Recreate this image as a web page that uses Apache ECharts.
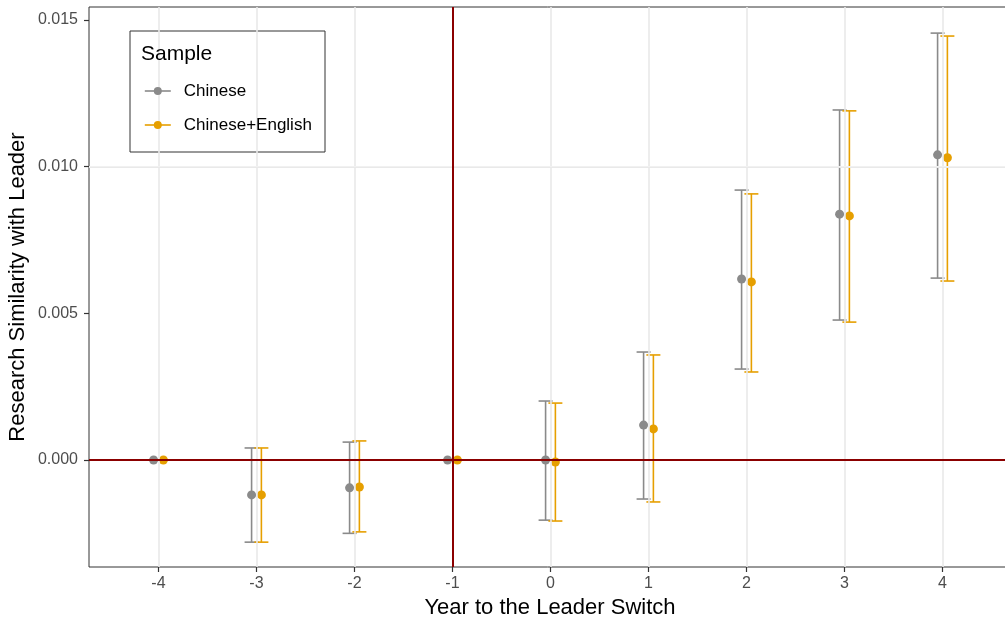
<!DOCTYPE html>
<html>
<head>
<meta charset="utf-8">
<script src="https://cdn.jsdelivr.net/npm/echarts@6/dist/echarts.min.js"></script>
<style>
  html, body { margin: 0; padding: 0; background: #fff; }
  #chart { width: 1005px; height: 622px; }
</style>
</head>
<body>
<div id="chart"></div>
<script>
// 数据
const years = [-4, -3, -2, -1, 0, 1, 2, 3, 4]
const yTicks = [0, 0.005, 0.01, 0.015]
const yMinor = [-0.0025, 0.0025, 0.0075, 0.0125]

const chineseEst = [0, -0.00119, -0.00095, 0, 0.0, 0.00119, 0.00617, 0.00838, 0.0104]
const chineseLow = [null, -0.0028, -0.0025, null, -0.00205, -0.00133, 0.0031, 0.00477, 0.0062]
const chineseHigh = [null, 0.00041, 0.00061, null, 0.00201, 0.00368, 0.0092, 0.01193, 0.01455]

const mixEst = [0, -0.00119, -0.00092, 0, -0.00007, 0.00106, 0.00607, 0.00832, 0.0103]
const mixLow = [null, -0.0028, -0.00245, null, -0.00208, -0.00143, 0.003, 0.0047, 0.0061]
const mixHigh = [null, 0.00041, 0.00065, null, 0.00194, 0.00358, 0.00907, 0.0119, 0.01445]

const GREY = '#8a8a8a'
const ORANGE = '#E69F00'
const DODGE = 0.05
const FONT = '"Liberation Sans", Arial, sans-serif'

const pointData = (est, off) => years.map((y, i) => [y + off, est[i]])
const barData = (low, high, off) =>
  years.map((y, i) => [y + off, low[i], high[i]]).filter(d => d[1] !== null)

function errorBar(color) {
  return function (params, api) {
    const top = api.coord([api.value(0), api.value(2)])
    const bot = api.coord([api.value(0), api.value(1)])
    const w = 7
    const style = { stroke: color, lineWidth: 1.6 }
    return {
      type: 'group',
      children: [
        { type: 'line', shape: { x1: top[0], y1: top[1], x2: bot[0], y2: bot[1] }, style },
        { type: 'line', shape: { x1: top[0] - w, y1: top[1], x2: top[0] + w, y2: top[1] }, style },
        { type: 'line', shape: { x1: bot[0] - w, y1: bot[1], x2: bot[0] + w, y2: bot[1] }, style },
      ],
    }
  }
}

const chart = echarts.init(document.getElementById('chart'))
const option = {
  animation: false,
  textStyle: { fontFamily: FONT },
  grid: {
    left: 89, right: -20, top: 7, bottom: 55,
    outerBoundsMode: 'none',
    show: true, borderColor: '#333', borderWidth: 1, backgroundColor: '#fff',
  },
  xAxis: {
    type: 'value',
    min: -4.709, max: 4.842,
    name: 'Year to the Leader Switch',
    nameLocation: 'middle', nameGap: 30, nameMoveOverlap: false,
    nameTextStyle: { fontSize: 22, color: '#000', fontFamily: FONT, padding: [0, 14, 0, 0] },
    axisLine: { show: false, onZero: false },
    axisTick: { show: true, length: 5, customValues: years, lineStyle: { color: '#333', width: 1.2 } },
    axisLabel: { customValues: years, fontSize: 16, color: '#4d4d4d', margin: 9, fontFamily: FONT },
    splitLine: { show: false },
  },
  yAxis: {
    type: 'value',
    min: -0.003647, max: 0.01544,
    name: 'Research Similarity with Leader',
    nameLocation: 'middle', nameGap: 60, nameMoveOverlap: false,
    nameTextStyle: { fontSize: 22, color: '#000', fontFamily: FONT },
    axisLine: { show: false, onZero: false },
    axisTick: { show: true, length: 5, customValues: yTicks, lineStyle: { color: '#333', width: 1.2 } },
    axisLabel: {
      customValues: yTicks, fontSize: 16, color: '#4d4d4d', margin: 11, fontFamily: FONT,
      formatter: v => v.toFixed(3),
    },
    splitLine: { show: false },
  },
  legend: {
    data: ['Chinese', 'Chinese+English'],
    orient: 'vertical',
    left: 139, top: 77,
    itemWidth: 26, itemHeight: 10, itemGap: 16,
    textStyle: { fontSize: 17, lineHeight: 18, color: '#000', fontFamily: FONT, padding: [0, 0, 0, 8] },
    lineStyle: { width: 1.6, opacity: 1 },
    z: 10,
  },
  graphic: [
    {
      type: 'rect', z: 5,
      shape: { x: 130, y: 31, width: 195, height: 121 },
      style: { fill: '#fff', stroke: '#333', lineWidth: 1 },
    },
    {
      type: 'text', z: 6, left: 141, top: 44,
      style: { text: 'Sample', fontSize: 21, fill: '#000', fontFamily: FONT },
    },
  ],
  series: [
    {
      // 网格线
      name: 'grid', type: 'line', data: [], silent: true, z: 0,
      markLine: {
        silent: true, symbol: ['none', 'none'], label: { show: false }, animation: false,
        data: [
          ...years.map(v => ({ xAxis: v, lineStyle: { color: '#e9e9e9', width: 1.6, type: 'solid' } })),
          ...yTicks.map(v => ({ yAxis: v, lineStyle: { color: '#e9e9e9', width: 1.6, type: 'solid' } })),
          ...yMinor.map(v => ({ yAxis: v, lineStyle: { color: '#f0f0f0', width: 0.9, type: 'solid' } })),
        ],
      },
    },
    {
      name: 'Chinese CI', type: 'custom', z: 2,
      renderItem: errorBar(GREY), data: barData(chineseLow, chineseHigh, -DODGE),
      encode: { x: 0, y: [1, 2] },
    },
    {
      name: 'Chinese+English CI', type: 'custom', z: 2,
      renderItem: errorBar(ORANGE), data: barData(mixLow, mixHigh, DODGE),
      encode: { x: 0, y: [1, 2] },
    },
    {
      // 参考线
      name: 'ref', type: 'line', data: [], silent: true, z: 3,
      markLine: {
        silent: true, symbol: ['none', 'none'], label: { show: false }, animation: false,
        lineStyle: { color: '#8B0000', width: 2, type: 'solid' },
        data: [{ xAxis: -1 }, { yAxis: 0 }],
      },
    },
    {
      name: 'Chinese', type: 'line', z: 4,
      data: pointData(chineseEst, -DODGE),
      symbol: 'circle', symbolSize: 9,
      itemStyle: { color: GREY },
      lineStyle: { width: 0, color: GREY },
    },
    {
      name: 'Chinese+English', type: 'line', z: 4,
      data: pointData(mixEst, DODGE),
      symbol: 'circle', symbolSize: 9,
      itemStyle: { color: ORANGE },
      lineStyle: { width: 0, color: ORANGE },
    },
  ],
}
chart.setOption(option)
</script>
</body>
</html>
